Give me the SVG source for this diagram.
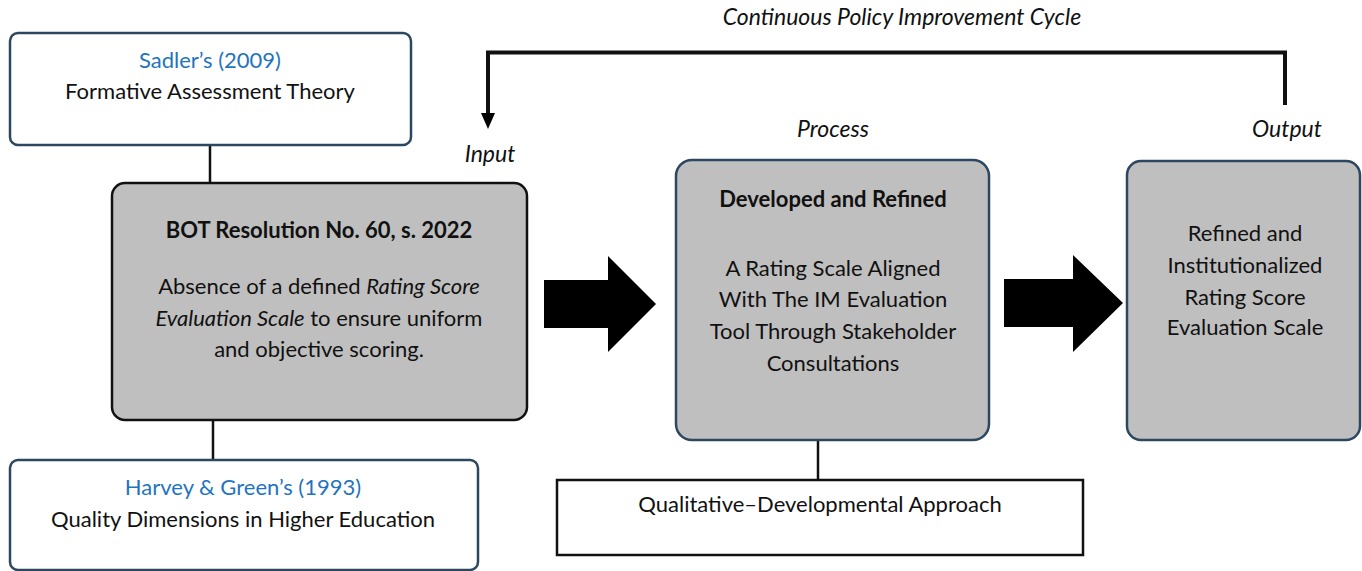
<svg xmlns="http://www.w3.org/2000/svg" width="1362" height="571" viewBox="0 0 1362 571">
  <defs>
    <style>
      .t { font-family: Lato, "Open Sans", "Liberation Sans", sans-serif; font-size: 22px; fill: #111; text-anchor: middle; }
      .b { font-weight: bold; }
      .i { font-style: italic; }
      .stage { font-size: 23px; }
      .ref { fill: #1f74c0; }
      .theory { fill: #ffffff; stroke: #2c4760; stroke-width: 2.5; }
      .grey-dark { fill: #bfbfbf; stroke: #111; stroke-width: 2.5; }
      .grey-blue { fill: #bfbfbf; stroke: #2c4760; stroke-width: 2.5; }
      .plain { fill: #ffffff; stroke: #111; stroke-width: 2.5; }
      .link { stroke: #111; stroke-width: 2.5; fill: none; }
      .cycle { stroke: #111; stroke-width: 4; fill: none; }
      .block { fill: #000; }
    </style>
  </defs>

  <!-- stage labels -->
  <g id="labels">
    <text class="t i stage" x="902" y="25">Continuous Policy Improvement Cycle</text>
    <text class="t i stage" x="490" y="162">Input</text>
    <text class="t i stage" x="833" y="137">Process</text>
    <text class="t i stage" x="1287" y="137">Output</text>
  </g>

  <!-- connectors -->
  <g id="connectors">
    <line class="link" x1="210" y1="145" x2="210" y2="183"/>
    <line class="link" x1="213" y1="420" x2="213" y2="460"/>
    <line class="link" x1="818" y1="440" x2="818" y2="480"/>
    <path class="cycle" d="M1285,105 L1285,52.5 L488,52.5 L488,113"/>
    <path class="block" d="M488,113 L481,113 L488,129 L495,113 Z"/>
    <polygon class="block" points="544,280 608,280 608,256 656,304 608,352 608,328 544,328"/>
    <polygon class="block" points="1004,279 1073,279 1073,255 1123,303 1073,352 1073,327 1004,327"/>
  </g>

  <g id="sadler">
    <rect class="theory" x="10" y="33" width="401" height="112" rx="8"/>
    <text class="t ref" x="210" y="68">Sadler’s (2009)</text>
    <text class="t" x="210" y="99">Formative Assessment Theory</text>
  </g>

  <g id="input">
    <rect class="grey-dark" x="112" y="183" width="415" height="237" rx="13"/>
    <text class="t b" x="319" y="238">BOT Resolution No. 60, s. 2022</text>
    <text class="t" x="319" y="294">Absence of a defined <tspan class="i">Rating Score</tspan></text>
    <text class="t" x="319" y="326"><tspan class="i">Evaluation Scale</tspan> to ensure uniform</text>
    <text class="t" x="319" y="357">and objective scoring.</text>
  </g>

  <g id="harvey">
    <rect class="theory" x="10" y="460" width="468" height="110" rx="8"/>
    <text class="t ref" x="243" y="495">Harvey &amp; Green’s (1993)</text>
    <text class="t" x="243" y="527">Quality Dimensions in Higher Education</text>
  </g>

  <g id="process">
    <rect class="grey-blue" x="676" y="160" width="313" height="280" rx="16"/>
    <text class="t b" x="833" y="207">Developed and Refined</text>
    <text class="t" x="833" y="276">A Rating Scale Aligned</text>
    <text class="t" x="833" y="307">With The IM Evaluation</text>
    <text class="t" x="833" y="339">Tool Through Stakeholder</text>
    <text class="t" x="833" y="371">Consultations</text>
  </g>

  <g id="output">
    <rect class="grey-blue" x="1127" y="161" width="233" height="279" rx="14"/>
    <text class="t" x="1245" y="241">Refined and</text>
    <text class="t" x="1245" y="273">Institutionalized</text>
    <text class="t" x="1245" y="305">Rating Score</text>
    <text class="t" x="1245" y="335">Evaluation Scale</text>
  </g>

  <g id="approach">
    <rect class="plain" x="557" y="480" width="526" height="75"/>
    <text class="t" x="820" y="512">Qualitative–Developmental Approach</text>
  </g>
</svg>
